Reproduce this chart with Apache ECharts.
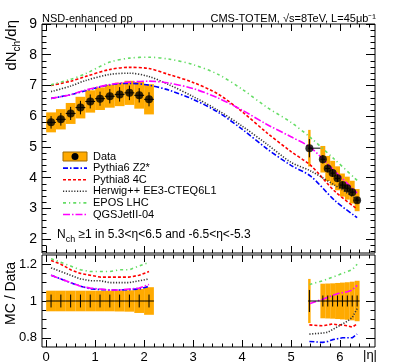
<!DOCTYPE html>
<html>
<head>
<meta charset="utf-8">
<script src="https://cdn.jsdelivr.net/npm/echarts@6/dist/echarts.min.js"></script>
<style>
  html, body { margin: 0; padding: 0; background: #fff; }
  #chart { width: 417px; height: 364px; }
</style>
</head>
<body>
<div id="chart"></div>
<script>
// measured points, central region and forward (T2) region
const etaLeft   = [0.1, 0.3, 0.5, 0.7, 0.9, 1.1, 1.3, 1.5, 1.7, 1.9, 2.1];
const binLoLeft = [0.0, 0.2, 0.4, 0.6, 0.8, 1.0, 1.2, 1.4, 1.6, 1.8, 2.0];
const binHiLeft = [0.2, 0.4, 0.6, 0.8, 1.0, 1.2, 1.4, 1.6, 1.8, 2.0, 2.2];
const dataLeft  = [5.80, 5.90, 6.09, 6.28, 6.48, 6.57, 6.65, 6.71, 6.76, 6.68, 6.55];
const statLeft  = [0.035, 0.035, 0.035, 0.035, 0.035, 0.035, 0.035, 0.035, 0.035, 0.035, 0.035];
const sysLeft   = [0.056, 0.056, 0.056, 0.056, 0.056, 0.056, 0.056, 0.057, 0.058, 0.065, 0.075];

const etaRight   = [5.375, 5.65, 5.75, 5.85, 5.95, 6.05, 6.15, 6.25, 6.35];
const binLoRight = [5.35, 5.6, 5.7, 5.8, 5.9, 6.0, 6.1, 6.2, 6.3];
const binHiRight = [5.6, 5.7, 5.8, 5.9, 6.0, 6.1, 6.2, 6.3, 6.4];
const boxLoRight = [5.35, 5.6, 5.7, 5.8, 5.9, 6.0, 6.1, 6.2, 6.3];
const boxHiRight = [5.40, 5.7, 5.8, 5.9, 6.0, 6.1, 6.2, 6.3, 6.4];
const dataRight  = [4.96, 4.60, 4.30, 4.15, 3.98, 3.76, 3.66, 3.53, 3.27];
const statRight  = [0.06, 0.03, 0.03, 0.03, 0.03, 0.03, 0.03, 0.03, 0.03];
const sysRight   = [0.12, 0.094, 0.095, 0.096, 0.098, 0.10, 0.102, 0.105, 0.11];

// generator curves
const modelNames  = ['Pythia6 Z2*', 'Pythia8 4C', 'Herwig++ EE3-CTEQ6L1', 'EPOS LHC', 'QGSJetII-04'];
const modelColors = ['#0000ff', '#ff0000', '#333333', '#66dd66', '#ff00ff'];
const modelDash   = [[5, 2, 1.5, 2], [3, 2], [1.2, 1.6], [3, 3, 1.2, 3], [7, 2, 1.5, 2]];

const etaMC   = [0.1, 0.5, 0.8, 1.3, 1.7, 2.1, 2.5, 3.0, 3.5, 4.0, 4.5, 5.0, 5.4, 5.9, 6.35];
const pythia6 = [6.58, 6.70, 6.83, 7.02, 7.07, 7.01, 6.85, 6.55, 6.14, 5.58, 4.95, 4.40, 4.05, 3.25, 2.70];
const pythia8 = [7.00, 7.14, 7.29, 7.52, 7.59, 7.55, 7.36, 7.10, 6.73, 6.15, 5.47, 4.85, 4.40, 3.55, 2.98];
const herwig  = [6.80, 6.98, 7.16, 7.36, 7.40, 7.29, 7.03, 6.64, 6.20, 5.68, 5.10, 4.50, 4.22, 3.75, 3.30];
const epos    = [7.02, 7.20, 7.38, 7.76, 7.89, 7.92, 7.86, 7.68, 7.37, 6.88, 6.30, 5.80, 5.30, 4.58, 3.91];
const qgsjet  = [6.58, 6.70, 6.85, 7.03, 7.11, 7.14, 7.08, 6.90, 6.60, 6.20, 5.74, 5.33, 4.98, 4.20, 3.50];

// MC / Data at the measured points
const ratioLeft = [
  [1.14, 1.12, 1.10, 1.08, 1.066, 1.062, 1.06, 1.06, 1.062, 1.065, 1.08],
  [1.22, 1.20, 1.17, 1.15, 1.14, 1.13, 1.13, 1.13, 1.13, 1.14, 1.16],
  [1.18, 1.16, 1.14, 1.12, 1.11, 1.11, 1.10, 1.10, 1.10, 1.11, 1.12],
  [1.23, 1.21, 1.19, 1.17, 1.16, 1.16, 1.16, 1.17, 1.17, 1.19, 1.21],
  [1.14, 1.12, 1.10, 1.08, 1.07, 1.065, 1.06, 1.06, 1.065, 1.07, 1.09]
];
const ratioRight = [
  [0.78, 0.775, 0.78, 0.79, 0.795, 0.80, 0.80, 0.80, 0.82],
  [0.87, 0.865, 0.87, 0.875, 0.87, 0.87, 0.865, 0.858, 0.876],
  [0.82, 0.826, 0.83, 0.845, 0.86, 0.875, 0.89, 0.91, 0.958],
  [1.09, 1.11, 1.12, 1.13, 1.14, 1.15, 1.16, 1.17, 1.20],
  [0.985, 1.01, 1.02, 1.03, 1.04, 1.045, 1.05, 1.06, 1.085]
];

const yTicksTop   = [2, 3, 4, 5, 6, 7, 8, 9];
const yTicksRatio = [0.8, 1, 1.2];
const xTicks      = [0, 1, 2, 3, 4, 5, 6];

const FONT = '"Liberation Sans", Arial, Helvetica, sans-serif';
const ORANGE = '#ffaa00';
const XMIN = -0.085, XMAX = 6.715;

const chart = echarts.init(document.getElementById('chart'), null, { renderer: 'canvas' });

function steps(from, to, step, skip) {
  const out = [];
  for (let v = from; v <= to + 1e-9; v += step) {
    const r = Math.round(v * 1000) / 1000;
    if (!skip.some(s => Math.abs(s - r) < 1e-6)) out.push(r);
  }
  return out;
}
const xMinor = steps(0, 6.6, 0.2, xTicks);
const yMinorTop = steps(1.6, 9, 0.2, yTicksTop);
const yMinorRatio = steps(0.8, 1.2, 0.05, yTicksRatio);

function ax(grid, pos, min, max, ticks, len, labels, fontSize) {
  return {
    type: 'value', gridIndex: grid, position: pos, min: min, max: max,
    axisLine: { show: false, onZero: false },
    splitLine: { show: false },
    axisTick: { show: true, inside: true, length: len, customValues: ticks,
                lineStyle: { color: '#000', width: 1 } },
    axisLabel: labels
      ? { show: true, customValues: labels, color: '#000', fontSize: fontSize,
          fontFamily: FONT, margin: pos === 'bottom' ? 4 : 5 }
      : { show: false }
  };
}

const xAxes = [
  ax(0, 'bottom', XMIN, XMAX, xTicks, 7, null),
  ax(0, 'bottom', XMIN, XMAX, xMinor, 3.5, null),
  ax(0, 'top', XMIN, XMAX, xTicks, 7, null),
  ax(0, 'top', XMIN, XMAX, xMinor, 3.5, null),
  ax(1, 'bottom', XMIN, XMAX, xTicks, 7, xTicks, 13),
  ax(1, 'bottom', XMIN, XMAX, xMinor, 3.5, null),
  ax(1, 'top', XMIN, XMAX, xTicks, 7, null),
  ax(1, 'top', XMIN, XMAX, xMinor, 3.5, null)
];
const yAxes = [
  ax(0, 'left', 1.55, 9, yTicksTop, 9, yTicksTop, 14),
  ax(0, 'left', 1.55, 9, yMinorTop, 4.5, null),
  ax(0, 'right', 1.55, 9, yTicksTop, 9, null),
  ax(0, 'right', 1.55, 9, yMinorTop, 4.5, null),
  ax(1, 'left', 0.75, 1.25, yTicksRatio, 9, yTicksRatio, 13),
  ax(1, 'left', 0.75, 1.25, yMinorRatio, 4.5, null),
  ax(1, 'right', 0.75, 1.25, yTicksRatio, 9, null),
  ax(1, 'right', 0.75, 1.25, yMinorRatio, 4.5, null)
];

// [xlo, xhi, value, relative sys]
function boxItem(params, api) {
  const v = api.value(2), rel = api.value(3);
  const p1 = api.coord([api.value(0), v * (1 + rel)]);
  const p2 = api.coord([api.value(1), v * (1 - rel)]);
  return { type: 'rect',
           shape: { x: p1[0], y: p1[1], width: p2[0] - p1[0], height: p2[1] - p1[1] },
           style: { fill: ORANGE } };
}
// [x, value, xlo, xhi, relative stat]
function errItem(params, api) {
  const x = api.value(0), v = api.value(1), rel = api.value(4);
  const a = api.coord([x, v * (1 + rel)]);
  const b = api.coord([x, v * (1 - rel)]);
  const l = api.coord([api.value(2), v]);
  const r = api.coord([api.value(3), v]);
  const st = { stroke: '#000', lineWidth: 1 };
  return { type: 'group', children: [
    { type: 'line', shape: { x1: a[0], y1: a[1], x2: b[0], y2: b[1] }, style: st },
    { type: 'line', shape: { x1: l[0], y1: l[1], x2: r[0], y2: r[1] }, style: st }
  ] };
}

const boxesTop = etaLeft.map((e, i) => [binLoLeft[i], binHiLeft[i], dataLeft[i], sysLeft[i]])
  .concat(etaRight.map((e, i) => [boxLoRight[i], boxHiRight[i], dataRight[i], sysRight[i]]));
const boxesRatio = boxesTop.map(b => [b[0], b[1], 1, b[3]]);
const errTop = etaLeft.map((e, i) => [e, dataLeft[i], binLoLeft[i], binHiLeft[i], statLeft[i]])
  .concat(etaRight.map((e, i) => [e, dataRight[i], binLoRight[i], binHiRight[i], statRight[i]]));
const errRatio = errTop.map(d => [d[0], 1, d[2], d[3], d[4]]);

const models = [pythia6, pythia8, herwig, epos, qgsjet];
const series = [];
series.push({ type: 'custom', xAxisIndex: 0, yAxisIndex: 0, renderItem: boxItem,
              encode: { x: [0, 1], y: 2 }, data: boxesTop, z: 1 });
models.forEach((m, k) => {
  series.push({ type: 'line', name: modelNames[k], xAxisIndex: 0, yAxisIndex: 0,
                data: etaMC.map((e, i) => [e, m[i]]), showSymbol: false, smooth: 0.3,
                lineStyle: { color: modelColors[k], width: 1.6, type: modelDash[k] }, z: 2 });
});
series.push({ type: 'custom', xAxisIndex: 0, yAxisIndex: 0, renderItem: errItem,
              encode: { x: 0, y: 1 }, data: errTop, z: 3 });
series.push({ type: 'scatter', name: 'Data', xAxisIndex: 0, yAxisIndex: 0,
              data: etaLeft.map((e, i) => [e, dataLeft[i]]).concat(etaRight.map((e, i) => [e, dataRight[i]])),
              symbolSize: 8, itemStyle: { color: '#000' }, z: 4 });

series.push({ type: 'custom', xAxisIndex: 4, yAxisIndex: 4, renderItem: boxItem,
              encode: { x: [0, 1], y: 2 }, data: boxesRatio, z: 1 });
series.push({ type: 'custom', xAxisIndex: 4, yAxisIndex: 4, renderItem: errItem,
              encode: { x: 0, y: 1 }, data: errRatio, z: 3 });
models.forEach((m, k) => {
  [[etaLeft, ratioLeft[k]], [etaRight, ratioRight[k]]].forEach(([xs, ys]) => {
    series.push({ type: 'line', xAxisIndex: 4, yAxisIndex: 4,
                  data: xs.map((e, i) => [e, ys[i]]), showSymbol: false,
                  lineStyle: { color: modelColors[k], width: 1.6, type: modelDash[k] }, z: 2 });
  });
});

// legend and labels
const graphics = [];
const legX = 63, legW = 24, legTextX = 93, legY0 = 156.5, legStep = 11.6;
graphics.push({ type: 'rect', shape: { x: legX, y: legY0 - 4.5, width: legW, height: 9 },
                style: { fill: ORANGE, stroke: '#a06a00', lineWidth: 1 } });
graphics.push({ type: 'circle', shape: { cx: legX + legW / 2, cy: legY0, r: 3.5 }, style: { fill: '#000' } });
graphics.push({ type: 'text', x: legTextX, y: legY0,
                style: { text: 'Data', font: '11px ' + FONT, fill: '#000', verticalAlign: 'middle', align: 'left' } });
modelNames.forEach((n, k) => {
  const y = legY0 + legStep * (k + 1);
  graphics.push({ type: 'line', shape: { x1: legX, y1: y, x2: legX + legW, y2: y },
                  style: { stroke: modelColors[k], lineWidth: 1.6, lineDash: modelDash[k] } });
  graphics.push({ type: 'text', x: legTextX, y: y,
                  style: { text: n, font: '11px ' + FONT, fill: '#000', verticalAlign: 'middle', align: 'left' } });
});

graphics.push({ type: 'text', x: 42, y: 19,
                style: { text: 'NSD-enhanced pp', font: '11px ' + FONT, fill: '#000', align: 'left', verticalAlign: 'middle' } });
graphics.push({ type: 'text', x: 376, y: 19,
                style: { text: 'CMS-TOTEM, √s=8TeV, L=45μb⁻¹', font: '11px ' + FONT, fill: '#000', align: 'right', verticalAlign: 'middle' } });
graphics.push({ type: 'text', x: 57, y: 235,
                style: { text: '{a|N}{s|ch}{a| ≥1 in 5.3<η<6.5 and -6.5<η<-5.3}', fill: '#000',
                         align: 'left', verticalAlign: 'middle',
                         rich: { a: { fontSize: 12, fontFamily: FONT, lineHeight: 18, verticalAlign: 'middle' },
                                 s: { fontSize: 9, fontFamily: FONT, lineHeight: 11, verticalAlign: 'bottom' } } } });
graphics.push({ type: 'text', x: 12, y: 20, rotation: Math.PI / 2,
                style: { text: '{a|dN}{s|ch}{a|/dη}', fill: '#000', align: 'right', verticalAlign: 'middle',
                         rich: { a: { fontSize: 15, fontFamily: FONT, lineHeight: 20, verticalAlign: 'middle' },
                                 s: { fontSize: 10, fontFamily: FONT, lineHeight: 12, verticalAlign: 'bottom' } } } });
graphics.push({ type: 'text', x: 11, y: 262, rotation: Math.PI / 2,
                style: { text: 'MC / Data', font: '14px ' + FONT, fill: '#000', align: 'right', verticalAlign: 'middle' } });
graphics.push({ type: 'text', x: 377, y: 355,
                style: { text: '|η|', font: '13px ' + FONT, fill: '#000', align: 'right', verticalAlign: 'middle' } });

chart.setOption({
  animation: false,
  backgroundColor: '#fff',
  grid: [
    { left: 42, top: 24, width: 333, height: 229, show: true, borderColor: '#000', borderWidth: 1, backgroundColor: 'transparent' },
    { left: 42, top: 255, width: 333, height: 92, show: true, borderColor: '#000', borderWidth: 1, backgroundColor: 'transparent' }
  ],
  xAxis: xAxes,
  yAxis: yAxes,
  series: series,
  graphic: graphics
});
</script>
</body>
</html>
